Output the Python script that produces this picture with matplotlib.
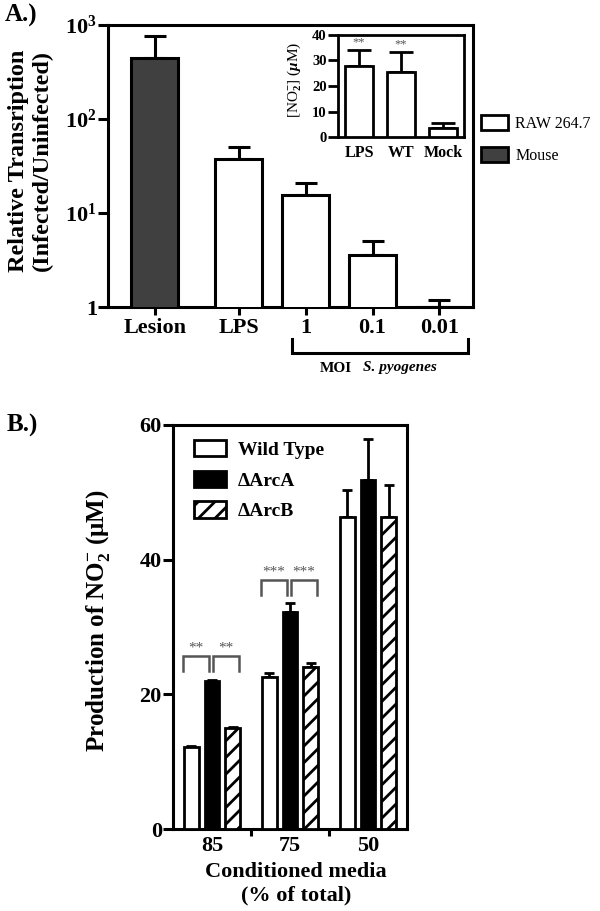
import matplotlib
matplotlib.use('Agg')
import matplotlib.pyplot as plt
from matplotlib.patches import Patch
from matplotlib.ticker import NullLocator, FixedLocator
import matplotlib.transforms as mtransforms
import numpy as np

plt.rcParams['font.family'] = ['Liberation Serif', 'DejaVu Serif']
plt.rcParams['font.weight'] = 'bold'
plt.rcParams['mathtext.fontset'] = 'custom'
plt.rcParams['mathtext.rm'] = 'Liberation Serif'
plt.rcParams['mathtext.bf'] = 'Liberation Serif:bold'
plt.rcParams['mathtext.it'] = 'Liberation Serif:italic'
plt.rcParams['hatch.linewidth'] = 2.0
plt.rcParams['axes.linewidth'] = 2.2

# ---------------- data ----------------
a_categories = ['Lesion', 'LPS', '1', '0.1', '0.01']
a_values = [445, 37.5, 15.7, 3.55, 1.0]
a_err_upper = [315, 12.5, 5.3, 1.45, 0.19]
a_source = ['Mouse', 'RAW 264.7', 'RAW 264.7', 'RAW 264.7', 'RAW 264.7']
a_yticks = [1, 10, 100, 1000]
a_yticklabels = ['1', r'$\mathbf{10^{1}}$', r'$\mathbf{10^{2}}$', r'$\mathbf{10^{3}}$']

inset_categories = ['LPS', 'WT', 'Mock']
inset_values = [27.8, 25.4, 3.4]
inset_err_upper = [6.3, 8.1, 2.0]
inset_sig = ['**', '**', '']
inset_yticks = [0, 10, 20, 30, 40]

b_groups = ['85', '75', '50']
b_series = ['Wild Type', '\u0394ArcA', '\u0394ArcB']
b_wild_type = [12.2, 22.5, 46.3]
b_wild_type_err = [0.2, 0.7, 4.1]
b_arca = [22.0, 32.2, 51.8]
b_arca_err = [0.2, 1.3, 6.1]
b_arcb = [15.0, 24.1, 46.3]
b_arcb_err = [0.2, 0.6, 4.8]
b_sig = [('**', '**'), ('***', '***'), None]
b_yticks = [0, 20, 40, 60]

# ---------------- figure ----------------
fig = plt.figure(figsize=(6, 9.11), dpi=100)

# ===== Panel A =====
axA = fig.add_axes([0.18, 0.663, 0.6083, 0.3096])
n = len(a_categories)
a_pos = np.arange(n) + np.where(np.arange(n) > 0, 0.25, 0.0)
a_colors = ['#404040' if s == 'Mouse' else 'white' for s in a_source]
axA.set_yscale('log')
axA.bar(a_pos, a_values, width=0.7, color=a_colors, edgecolor='black',
        linewidth=2.2, zorder=3)
axA.errorbar(a_pos, a_values, yerr=[np.zeros(n), a_err_upper], fmt='none',
             ecolor='black', elinewidth=2.2, capsize=8, capthick=2.2, zorder=2)
axA.set_ylim(1, 1000)
axA.set_xlim(-0.7, 4.75)
axA.yaxis.set_major_locator(FixedLocator(a_yticks))
axA.yaxis.set_minor_locator(NullLocator())
axA.set_yticklabels(a_yticklabels)
axA.set_xticks(a_pos)
axA.set_xticklabels(a_categories)
axA.tick_params(axis='both', labelsize=16, width=2.2)
axA.tick_params(axis='y', length=7, pad=1)
axA.tick_params(axis='x', length=6, pad=2)
axA.set_ylabel('Relative Transription\n(Infected/Uninfected)', fontsize=17.5,
               fontweight='bold', linespacing=1.15)
axA.yaxis.set_label_coords(-0.151, 0.518)

# bracket under MOI groups
trans = mtransforms.blended_transform_factory(axA.transData, fig.transFigure)
xb0, xb1 = 2.046, 4.67
yb_low, yb_high = 1 - 353 / 911, 1 - 339 / 911
axA.plot([xb0, xb0, xb1, xb1], [yb_high, yb_low, yb_low, yb_high],
         transform=trans, color='black', lw=2.2, clip_on=False,
         solid_joinstyle='miter')
fig.text(320 / 600, 1 - 368 / 911, 'MOI', fontsize=11, fontweight='bold',
         ha='left', va='center')
fig.text(363 / 600, 1 - 368 / 911, 'S. pyogenes', fontsize=11,
         fontweight='bold', style='italic', ha='left', va='center')

# legend for panel A
legA = fig.legend(handles=[Patch(facecolor='white', edgecolor='black', lw=2, label='RAW 264.7'),
                           Patch(facecolor='#404040', edgecolor='black', lw=2, label='Mouse')],
                  loc='center left', bbox_to_anchor=(481 / 600, 1 - 139.5 / 911),
                  frameon=False, prop={'size': 11.5, 'weight': 'normal'},
                  handlelength=1.69, handleheight=1.06, labelspacing=1.0,
                  handletextpad=0.45, borderpad=0, borderaxespad=0)

# inset
axI = fig.add_axes([0.5633, 0.8496, 0.21, 0.112])
ipos = np.arange(len(inset_categories))
axI.bar(ipos, inset_values, width=0.67, color='white', edgecolor='black',
        linewidth=2.0, zorder=3)
axI.errorbar(ipos, inset_values, yerr=[np.zeros(len(ipos)), inset_err_upper],
             fmt='none', ecolor='black', elinewidth=2.0, capsize=8.5,
             capthick=2.0, zorder=2)
for x, v, e, s in zip(ipos, inset_values, inset_err_upper, inset_sig):
    if s:
        axI.text(x, v + e + 0.6, s, ha='center', va='bottom', fontsize=9,
                 fontweight='normal', color='#555555')
axI.set_xlim(-0.5, 2.5)
axI.set_ylim(0, 40)
axI.set_yticks(inset_yticks)
axI.set_xticks(ipos)
axI.set_xticklabels(inset_categories)
for sp in axI.spines.values():
    sp.set_linewidth(2.0)
axI.tick_params(axis='y', labelsize=10.5, length=7, width=2, pad=1)
axI.tick_params(axis='x', labelsize=11.5, length=0, pad=6)
axI.set_ylabel(r'[NO$_2^{-}$] ($\mu$M)', fontsize=11, fontweight='normal')
axI.yaxis.set_label_coords(-0.28, 0.56)

fig.text(5 / 600, 1 - 15 / 911, 'A.)', fontsize=18, fontweight='bold',
         ha='left', va='center')

# ===== Panel B =====
axB = fig.add_axes([0.2883, 0.09, 0.39, 0.4435])
gpos = np.arange(len(b_groups))
offsets = [-0.265, 0.0, 0.265]
bw = 0.19
series_vals = [b_wild_type, b_arca, b_arcb]
series_errs = [b_wild_type_err, b_arca_err, b_arcb_err]
styles = [dict(color='white', hatch=None), dict(color='black', hatch=None),
          dict(color='white', hatch='//')]
for off, vals, errs, st, lab in zip(offsets, series_vals, series_errs, styles, b_series):
    axB.bar(gpos + off, vals, width=bw, color=st['color'], hatch=st['hatch'],
            edgecolor='black', linewidth=2.0, zorder=3, label=lab)
    axB.errorbar(gpos + off, vals, yerr=[np.zeros(len(vals)), errs], fmt='none',
                 ecolor='black', elinewidth=2.0, capsize=3.5, capthick=2.0,
                 zorder=2)

# significance brackets
br_spans = [(-0.37, -0.04), (0.01, 0.34)]
for g, sig in enumerate(b_sig):
    if sig is None:
        continue
    top = max(v + e for v, e in ((b_wild_type[g], b_wild_type_err[g]),
                                  (b_arca[g], b_arca_err[g]),
                                  (b_arcb[g], b_arcb_err[g]))) + 3.5
    for (x0, x1), s in zip(br_spans, sig):
        axB.plot([g + x0, g + x0, g + x1, g + x1], [top - 2.3, top, top, top - 2.3],
                 color='#555555', lw=1.8, solid_joinstyle='miter', zorder=4)
        axB.text(g + (x0 + x1) / 2, top + 0.2, s, ha='center', va='bottom',
                 fontsize=11, fontweight='normal', color='#555555')

axB.set_xlim(-0.5, 2.5)
axB.set_ylim(0, 60)
axB.set_yticks(b_yticks)
axB.set_xticks(gpos)
axB.set_xticklabels(b_groups)
axB.xaxis.set_minor_locator(FixedLocator([0.5, 1.5]))
axB.tick_params(axis='both', labelsize=16, width=2.2)
axB.tick_params(axis='y', length=7, pad=1)
axB.tick_params(axis='x', which='major', length=0, pad=5)
axB.tick_params(axis='x', which='minor', length=5, width=2.2)
axB.set_ylabel(r'Production of NO$_{\mathbf{2}}^{\mathbf{-}}$ ($\mathbf{\mu}$M)',
               fontsize=18, fontweight='bold')
axB.yaxis.set_label_coords(-0.261, 0.516)
axB.set_xlabel('Conditioned media\n(% of total)', fontsize=16,
               fontweight='bold', linespacing=1.2, va='top')
axB.xaxis.set_label_coords(0.526, -0.082)

hB, lB = axB.get_legend_handles_labels()
axB.legend(hB, lB, loc='upper left', bbox_to_anchor=(0.09, 0.963),
           frameon=False, prop={'size': 14, 'weight': 'bold'},
           handlelength=1.65, handleheight=0.93, labelspacing=0.6,
           handletextpad=0.62, borderpad=0, borderaxespad=0)

fig.text(7 / 600, 1 - 425 / 911, 'B.)', fontsize=18, fontweight='bold',
         ha='left', va='center')

fig.savefig('out.png', dpi=100)
